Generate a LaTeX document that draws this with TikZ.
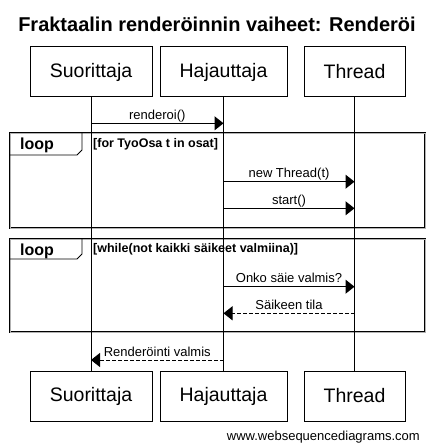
\documentclass[tikz,border=0pt]{standalone}
\usepackage{fontspec}
\setmainfont{Liberation Sans}
\usetikzlibrary{arrows.meta}

\begin{document}
\begin{tikzpicture}[x=1pt, y=-1pt,
    actor/.style={draw, line width=1pt, minimum height=50pt, inner sep=0pt,
      font=\fontsize{19.5}{22}\selectfont},
    lifeline/.style={line width=1pt},
    msg/.style={line width=1pt, -{Triangle[length=9pt,width=14pt]}},
    reply/.style={msg, dash pattern=on 4pt off 2pt},
    msglabel/.style={anchor=base, inner sep=0pt, yshift=4pt,
      font=\fontsize{13}{15}\selectfont},
    loopframe/.style={draw, line width=0.9pt, double=gray!60, double distance=0.8pt},
    looptab/.style={draw, line width=0.9pt},
    looplabel/.style={anchor=base west, inner sep=0pt,
      font=\fontsize{16}{18}\selectfont\bfseries},
    guard/.style={anchor=base west, inner sep=0pt,
      font=\fontsize{12.5}{14}\selectfont\bfseries}]
  \useasboundingbox (0,0) rectangle (433,443);

  % Otsikko
  \node[anchor=base, inner sep=0pt, font=\fontsize{20}{24}\selectfont\bfseries]
    (title) at (217,32) {Fraktaalin renderöinnin vaiheet: Renderöi};

  % Osallistujat ylhaalla
  \node[actor, minimum width=122pt] (suoA) at (91,72) {Suorittaja};
  \node[actor, minimum width=127pt] (hajA) at (223.5,72) {Hajauttaja};
  \node[actor, minimum width=101pt] (thrA) at (354.5,72) {Thread};

  % Osallistujat alhaalla
  \node[actor, minimum width=122pt] (suoB) at (91,396) {Suorittaja};
  \node[actor, minimum width=127pt] (hajB) at (223.5,396) {Hajauttaja};
  \node[actor, minimum width=101pt] (thrB) at (354.5,396) {Thread};

  % Silmukat
  \draw[loopframe] (10,133) rectangle (425,228);
  \draw[looptab] (10,155) -- (77,155) -- (82,150) -- (82,133);
  \node[looplabel] (loopA) at (20,150) {loop};
  \node[guard] (guardA) at (93,148) {[for TyoOsa t in osat]};

  \draw[loopframe] (10,239) rectangle (425,332);
  \draw[looptab] (10,259) -- (77,259) -- (82,254) -- (82,239);
  \node[looplabel] (loopB) at (20,255) {loop};
  \node[guard] (guardB) at (93,252.5) {[while(not kaikki säikeet valmiina)]};

  % Elamanviivat
  \draw[lifeline] (suoA) -- (suoB);
  \draw[lifeline] (hajA) -- (hajB);
  \draw[lifeline] (thrA) -- (thrB);

  % Viestien korkeudet
  \coordinate (y1) at (0,123.3);
  \coordinate (y2) at (0,181.7);
  \coordinate (y3) at (0,208.3);
  \coordinate (y4) at (0,286.7);
  \coordinate (y5) at (0,313.3);
  \coordinate (y6) at (0,360);

  % Viestit
  \draw[msg] (suoA |- y1) -- (hajA |- y1) node[msglabel, midway] {renderoi()};
  \draw[msg] (hajA |- y2) -- (thrA |- y2) node[msglabel, midway] {new Thread(t)};
  \draw[msg] (hajA |- y3) -- (thrA |- y3) node[msglabel, midway] {start()};
  \draw[msg] (hajA |- y4) -- (thrA |- y4) node[msglabel, midway] {Onko säie valmis?};
  \draw[reply] (thrA |- y5) -- (hajA |- y5) node[msglabel, midway] {Säikeen tila};
  \draw[reply] (hajA |- y6) -- (suoA |- y6) node[msglabel, midway] {Renderöinti valmis};

  % Alatunniste
  \node[anchor=base east, inner sep=0pt, font=\fontsize{13}{15}\selectfont]
    (footer) at (420,440) {www.websequencediagrams.com};
\end{tikzpicture}
\end{document}
